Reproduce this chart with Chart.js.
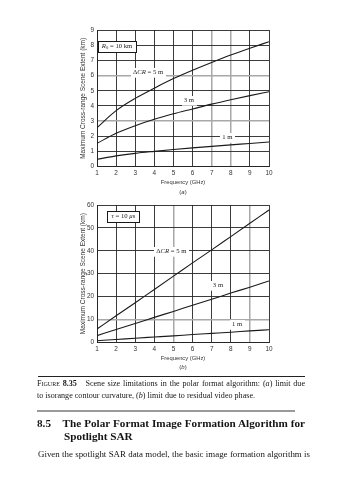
<!DOCTYPE html>
<html>
<head>
<meta charset="utf-8">
<script src="https://cdn.jsdelivr.net/npm/chart.js@4.4.1/dist/chart.umd.min.js"></script>
<style>
  html, body { margin: 0; padding: 0; background: #fff; }
  body { width: 339px; height: 480px; position: relative; overflow: hidden; font-family: "Liberation Serif", "Times New Roman", serif; color: #151515; }
  canvas { position: absolute; left: 0; }
  #chartA { top: 0; }
  #chartB { top: 195px; }
  .panel { position: absolute; width: 40px; text-align: center; font-family: "Liberation Sans", Arial, sans-serif; font-size: 6px; line-height: 8px; color: #333; }
  .line { position: absolute; white-space: nowrap; }
  .just { white-space: normal; text-align: justify; text-align-last: justify; }
  .rule { position: absolute; }
  .sc { font-variant: small-caps; }
</style>
</head>
<body>
<canvas id="chartA" width="339" height="195"></canvas>
<canvas id="chartB" width="339" height="180"></canvas>

<div class="panel" style="left:163px; top:188px;">(<i>a</i>)</div>
<div class="panel" style="left:163px; top:363px;">(<i>b</i>)</div>

<div class="rule" style="left:38px; top:376px; width:267px; height:1px; background:#222;"></div>

<div class="line just" style="left:37px; top:379px; width:268px; font-size:8.1px; line-height:10px;"><span class="sc">Figure</span> <b>8.35</b>&nbsp;&nbsp; Scene size limitations in the polar format algorithm: (<i>a</i>) limit due</div>
<div class="line" style="left:37px; top:391px; font-size:8.1px; line-height:10px;">to isorange contour curvature, (<i>b</i>) limit due to residual video phase.</div>

<div class="rule" style="left:37px; top:410px; width:258px; height:2px; background:#9a9a9a;"></div>

<div class="line just" style="left:37px; top:417px; width:268px; font-size:11.2px; line-height:13px; font-weight:bold;">8.5&nbsp;&nbsp;&nbsp; The Polar Format Image Formation Algorithm for</div>
<div class="line" style="left:64px; top:430px; font-size:11.2px; line-height:13px; font-weight:bold;">Spotlight SAR</div>
<div class="line just" style="left:38px; top:449px; width:272px; font-size:8.9px; line-height:11px;">Given the spotlight SAR data model, the basic image formation algorithm is</div>

<script>
// Radar carrier frequency (GHz) shared by both panels
const freqGHz = [1, 2, 3, 4, 5, 6, 7, 8, 9, 10];

// (a) limit due to isorange contour curvature, R0 = 10 km (km)
const curvature5m = [2.57, 3.69, 4.50, 5.17, 5.80, 6.35, 6.86, 7.35, 7.80, 8.23];
const curvature3m = [1.54, 2.20, 2.70, 3.12, 3.48, 3.80, 4.12, 4.41, 4.68, 4.94];
const curvature1m = [0.49, 0.71, 0.88, 1.01, 1.13, 1.24, 1.34, 1.44, 1.53, 1.63];

// (b) limit due to residual video phase, tau = 10 us (km)
const phase5m = [5.8, 11.6, 17.3, 23.1, 28.9, 34.7, 40.4, 46.2, 52.0, 57.8];
const phase3m = [2.9, 5.6, 8.2, 10.9, 13.5, 16.2, 18.8, 21.5, 24.1, 26.8];
const phase1m = [0.7, 1.2, 1.8, 2.3, 2.8, 3.4, 3.9, 4.4, 5.0, 5.5];

// Tick labels
const xTicks = [1, 2, 3, 4, 5, 6, 7, 8, 9, 10];
const yTicksA = [0, 1, 2, 3, 4, 5, 6, 7, 8, 9];
const yTicksB = [0, 10, 20, 30, 40, 50, 60];

const yTitle = 'Maximum Cross-range Scene Extent (km)';
const xTitle = 'Frequency (GHz)';

// Grid rules printed lighter and heavier on the page
const paleX_A = [7, 8], paleY_A = [3, 6];
const paleX_B = [5, 9], paleY_B = [10];

const INK = '#1a1a1a';
const GRID = '#262626';
const PALE = '#a8a8a8';

function pairs(ys) { return freqGHz.map((f, i) => ({ x: f, y: ys[i] })); }

function curve(ys) {
  return {
    data: pairs(ys),
    borderColor: INK,
    borderWidth: 1.1,
    pointRadius: 0,
    fill: false,
    cubicInterpolationMode: 'monotone'
  };
}

// In-plot notes: rich text runs, optionally inside a framed box, placed in data units
const notesPlugin = {
  id: 'notes',
  afterDatasetsDraw(chart, args, opts) {
    const { ctx } = chart;
    const xs = chart.scales.x, ys = chart.scales.y;
    const size = opts.size || 6.5;
    (opts.items || []).forEach(item => {
      const cx = xs.getPixelForValue(item.x);
      const cy = ys.getPixelForValue(item.y);
      ctx.save();
      let total = 0;
      const runs = item.runs.map(r => {
        const fs = r.sub ? size * 0.7 : size;
        const font = (r.it ? 'italic ' : '') + fs + 'px "Liberation Serif", "Times New Roman", serif';
        ctx.font = font;
        const w = ctx.measureText(r.t).width;
        total += w;
        return { t: r.t, font, w, sub: r.sub };
      });
      const padX = item.box ? item.padX || 4 : 2;
      const h = item.box ? (item.h || 11) : size + 2;
      const bx = Math.round(cx - total / 2 - padX) + 0.5;
      const by = Math.round(cy - h / 2) + 0.5;
      const bw = Math.round(total + 2 * padX);
      ctx.fillStyle = '#fff';
      ctx.fillRect(bx - 0.5, by - 0.5, bw + 1, h + 1);
      if (item.box) {
        ctx.strokeStyle = INK;
        ctx.lineWidth = 1;
        ctx.strokeRect(bx, by, bw, h);
      }
      ctx.fillStyle = '#222';
      ctx.textBaseline = 'middle';
      ctx.textAlign = 'left';
      let px = cx - total / 2;
      runs.forEach(r => {
        ctx.font = r.font;
        ctx.fillText(r.t, px, cy + (r.sub ? 1.8 : 0));
        px += r.w;
      });
      ctx.restore();
    });
  }
};

function makeChart(id, sets, yTicks, yMax, paleX, paleY, pad, notes) {
  const tickFont = { family: '"Liberation Sans", Arial, sans-serif', size: 6.4 };
  return new Chart(document.getElementById(id), {
    type: 'line',
    data: { datasets: sets.map(curve) },
    plugins: [notesPlugin],
    options: {
      responsive: false,
      animation: false,
      devicePixelRatio: 1,
      layout: { padding: pad },
      plugins: {
        legend: { display: false },
        tooltip: { enabled: false },
        notes: { items: notes, size: 6.7 }
      },
      scales: {
        x: {
          type: 'linear',
          min: xTicks[0],
          max: xTicks[xTicks.length - 1],
          afterBuildTicks: s => { s.ticks = xTicks.map(v => ({ value: v })); },
          afterFit: s => { s.height = 24; },
          ticks: { color: '#333', font: tickFont, padding: 3, maxRotation: 0 },
          grid: {
            drawTicks: false,
            color: c => paleX.includes(c.tick && c.tick.value) ? PALE : GRID,
            lineWidth: c => paleX.includes(c.tick && c.tick.value) ? 1.5 : 0.9
          },
          border: { color: GRID, width: 1 },
          title: {
            display: true, text: xTitle, color: '#333',
            font: { family: '"Liberation Sans", Arial, sans-serif', size: 5.8 },
            padding: { top: 0, bottom: 4.5 }
          }
        },
        y: {
          type: 'linear',
          min: 0,
          max: yMax,
          afterBuildTicks: s => { s.ticks = yTicks.map(v => ({ value: v })); },
          afterFit: s => { s.width = 21; },
          ticks: { color: '#333', font: tickFont, padding: 3 },
          grid: {
            drawTicks: false,
            color: c => paleY.includes(c.tick && c.tick.value) ? PALE : GRID,
            lineWidth: c => paleY.includes(c.tick && c.tick.value) ? 1.5 : 0.9
          },
          border: { color: GRID, width: 1 },
          title: {
            display: true, text: yTitle, color: '#333',
            font: { family: '"Liberation Sans", Arial, sans-serif', size: 6.5 },
            padding: { top: 3, bottom: 0 }
          }
        }
      }
    }
  });
}

makeChart('chartA',
  [curvature5m, curvature3m, curvature1m],
  yTicksA, 9, paleX_A, paleY_A,
  { top: 30, right: 70, bottom: 4.3, left: 76 },
  [
    { x: 2.05, y: 7.93, box: true, h: 11, padX: 4,
      runs: [{ t: 'R', it: true }, { t: '0', sub: true }, { t: ' = 10 km' }] },
    { x: 3.67, y: 6.22, runs: [{ t: 'Δ' }, { t: 'CR', it: true }, { t: ' = 5 m' }] },
    { x: 5.81, y: 4.39, runs: [{ t: '3 m' }] },
    { x: 7.82, y: 1.91, runs: [{ t: '1 m' }] }
  ]);

makeChart('chartB',
  [phase5m, phase3m, phase1m],
  yTicksB, 60, paleX_B, paleY_B,
  { top: 10, right: 70, bottom: 8.7, left: 76 },
  [
    { x: 2.38, y: 55.1, box: true, h: 11, padX: 4,
      runs: [{ t: 'τ', it: true }, { t: ' = 10 ' }, { t: 'μ', it: true }, { t: 's' }] },
    { x: 4.89, y: 39.9, runs: [{ t: 'Δ' }, { t: 'CR', it: true }, { t: ' = 5 m' }] },
    { x: 7.33, y: 25.0, runs: [{ t: '3 m' }] },
    { x: 8.33, y: 7.9, runs: [{ t: '1 m' }] }
  ]);
</script>
</body>
</html>
